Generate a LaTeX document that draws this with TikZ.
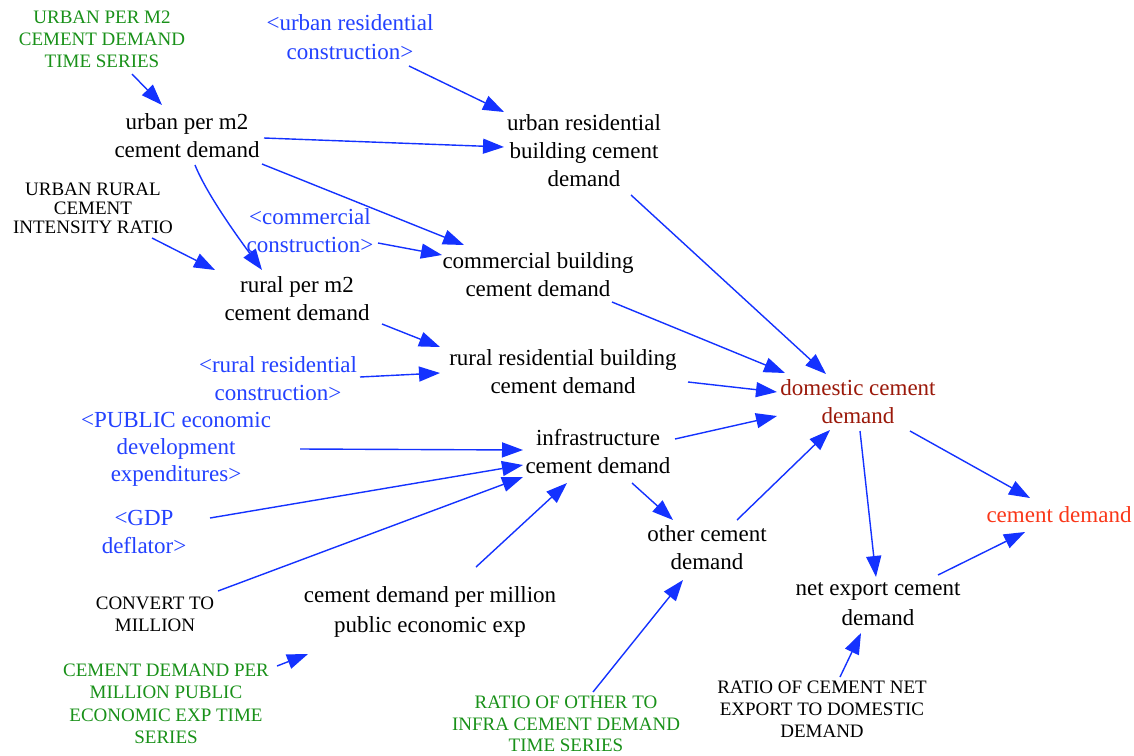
\documentclass[tikz,border=0pt]{standalone}
\usepackage{fontspec}
\setmainfont{Liberation Serif}
\usetikzlibrary{arrows.meta,calc}

\definecolor{linkblue}{RGB}{20,50,255}
\definecolor{shadowblue}{RGB}{35,65,255}
\definecolor{lookgreen}{RGB}{25,145,25}
\definecolor{keyred}{RGB}{155,25,10}
\definecolor{outred}{RGB}{250,55,25}

% causal link from an offset point of one variable to an offset point of another
\newcommand\conn[4]{\draw[link] ($(#1)+(#2)$) -- ($(#3)+(#4)$);}

\begin{document}
\begin{tikzpicture}[x=1pt,y=-1pt,
  var/.style={align=center,inner sep=0pt,font=\fontsize{23}{28}\selectfont},
  shadowvar/.style={var,text=shadowblue},
  const/.style={align=center,inner sep=0pt,font=\fontsize{19}{22}\selectfont},
  lookup/.style={const,text=lookgreen},
  link/.style={draw=linkblue,line width=1.4pt,-{Triangle[length=21pt,width=15pt]}}]

\fill[white] (0,0) rectangle (1134,755);

% variables
\node[lookup] (tsurban) at (102,39) {URBAN PER M2\\CEMENT DEMAND\\TIME SERIES};
\node[shadowvar,font=\fontsize{23}{29}\selectfont] (urbanrc) at (350,37) {<urban residential\\construction>};
\node[var] (urbanm2) at (187,136) {urban per m2\\cement demand};
\node[var] (urbanbld) at (584,151) {urban residential\\building cement\\demand};
\node[const,font=\fontsize{19}{19}\selectfont] (urcir) at (93,208) {URBAN RURAL\\CEMENT\\INTENSITY RATIO};
\node[shadowvar] (commc) at (310,231) {<commercial\\construction>};
\node[var] (commbld) at (538,275) {commercial building\\cement demand};
\node[var] (ruralm2) at (297,299) {rural per m2\\cement demand};
\node[shadowvar] (ruralrc) at (278,379) {<rural residential\\construction>};
\node[var] (ruralbld) at (563,372) {rural residential building\\cement demand};
\node[var,text=keyred] (dom) at (858,402) {domestic cement\\demand};
\node[shadowvar,font=\fontsize{23}{27}\selectfont] (pub) at (176,449) {<PUBLIC economic\\development\\expenditures>};
\node[var] (infra) at (598,452) {infrastructure\\cement demand};
\node[shadowvar] (gdp) at (144,532) {<GDP\\deflator>};
\node[var] (other) at (707,548) {other cement\\demand};
\node[var,text=outred] (cd) at (1059,515) {cement demand};
\node[var,font=\fontsize{23}{30}\selectfont] (net) at (878,604) {net export cement\\demand};
\node[const] (conv) at (155,614) {CONVERT TO\\MILLION};
\node[var,font=\fontsize{23}{30}\selectfont] (cdpm) at (430,612) {cement demand per million\\public economic exp};
\node[lookup,font=\fontsize{19}{22.5}\selectfont] (tscdpm) at (166,704) {CEMENT DEMAND PER\\MILLION PUBLIC\\ECONOMIC EXP TIME\\SERIES};
\node[lookup,font=\fontsize{19}{21.5}\selectfont] (ratioother) at (566,724) {RATIO OF OTHER TO\\INFRA CEMENT DEMAND\\TIME SERIES};
\node[const] (rationet) at (822,709) {RATIO OF CEMENT NET\\EXPORT TO DOMESTIC\\DEMAND};

% links
\conn{tsurban}{30,35}{urbanm2}{-25,-31}
\conn{urbanrc}{59,29}{urbanbld}{-80,-39}
\conn{urbanm2}{77,2}{urbanbld}{-80,-4}
\conn{urbanm2}{75,28}{commbld}{-74,-30}
\draw[link] ($(urbanm2)+(8,29)$) .. controls ($(urbanm2)+(20,59)$) and ($(ruralm2)+(-57,-59)$) .. ($(ruralm2)+(-35,-29)$);
\conn{urcir}{59,30}{ruralm2}{-82,-29}
\conn{commc}{68,12}{commbld}{-96,-20}
\conn{commbld}{74,27}{dom}{-73,-29}
\conn{urbanbld}{47,44}{dom}{-32,-28}
\conn{ruralm2}{85,25}{ruralbld}{-123,-25}
\conn{ruralrc}{82,-2}{ruralbld}{-123,1}
\conn{ruralbld}{125,10}{dom}{-81,-10}
\conn{infra}{77,-13}{dom}{-81,14}
\conn{pub}{124,0}{infra}{-75,-2}
\conn{gdp}{66,-14}{infra}{-75,13}
\conn{conv}{63,-23}{infra}{-75,25}
\conn{cdpm}{46,-45}{infra}{-31,31}
\conn{infra}{34,31}{other}{-34,-28}
\conn{other}{30,-28}{dom}{-28,28}
\conn{ratioother}{27,-32}{other}{-24,32}
\conn{dom}{2,29}{net}{-2,-27}
\conn{dom}{52,29}{cd}{-29,-17}
\conn{net}{60,-29}{cd}{-34,17}
\conn{rationet}{18,-32}{net}{-17,29}
\conn{tscdpm}{111,-38}{cdpm}{-122,42}

\end{tikzpicture}
\end{document}
